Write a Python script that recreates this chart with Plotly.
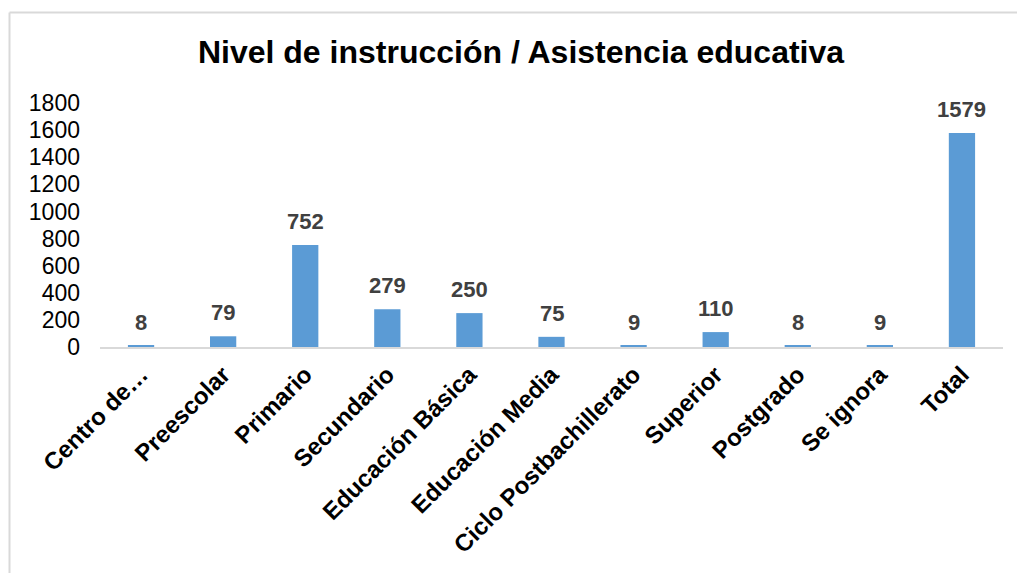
import plotly.graph_objects as go

CATEGORIES = ['Centro de…', 'Preescolar', 'Primario', 'Secundario', 'Educación Básica',
              'Educación Media', 'Ciclo Postbachillerato', 'Superior', 'Postgrado',
              'Se ignora', 'Total']
VALUES = [8, 79, 752, 279, 250, 75, 9, 110, 8, 9, 1579]
Y_TICKS = [0, 200, 400, 600, 800, 1000, 1200, 1400, 1600, 1800]

BAR_COLOR = '#5B9BD5'
FONT = 'Liberation Sans, Arial, sans-serif'

# plot area in pixels (used to place the outer frame)
W, H = 1017, 573
L, R, T, B = 100, 14, 103, 226
PW, PH = W - L - R, H - T - B


def px_x(px):
    return (px - L) / PW


def px_y(py):
    return (H - B - py) / PH


fig = go.Figure(
    go.Bar(
        x=CATEGORIES,
        y=VALUES,
        marker=dict(color=BAR_COLOR, line=dict(width=0)),
        hoverinfo='x+y',
        showlegend=False,
    )
)

annotations = [
    dict(x=c, y=v, text=f'<b>{v}</b>', showarrow=False, yanchor='bottom', yshift=9,
         font=dict(family=FONT, size=22, color='#404040'))
    for c, v in zip(CATEGORIES, VALUES)
]

fig.update_layout(
    width=W,
    height=H,
    title=dict(text='<b>Nivel de instrucción / Asistencia educativa</b>',
               xref='container', x=521 / W, xanchor='center',
               y=1 - 52 / H, yanchor='middle', font=dict(family=FONT, size=32, color='#000000')),
    plot_bgcolor='#FFFFFF',
    paper_bgcolor='#FFFFFF',
    margin=dict(l=L, r=R, t=T, b=B, autoexpand=False),
    bargap=0.68,
    font=dict(family=FONT, color='#000000'),
    xaxis=dict(
        tickangle=-45,
        tickfont=dict(family=FONT, size=24, color='#000000', weight='bold'),
        ticklabelstandoff=2,
        showline=True,
        linecolor='#d9d9d9',
        linewidth=2,
        showgrid=False,
        ticks='',
    ),
    yaxis=dict(
        range=[0, 1800],
        tickvals=Y_TICKS,
        tickfont=dict(family=FONT, size=23, color='#000000'),
        showgrid=False,
        zeroline=False,
        showline=False,
        ticks='',
        ticklabelstandoff=19,
    ),
    annotations=annotations,
    shapes=[
        dict(type='line', xref='paper', yref='paper', x0=px_x(9.5), x1=px_x(1030),
             y0=px_y(12.5), y1=px_y(12.5), line=dict(color='#d9d9d9', width=2)),
        dict(type='line', xref='paper', yref='paper', x0=px_x(9.5), x1=px_x(9.5),
             y0=px_y(12.5), y1=px_y(600), line=dict(color='#d9d9d9', width=2)),
    ],
)

fig.write_html('out.html', config={'displayModeBar': False},
               post_script="document.body.style.margin='0';document.body.style.overflow='hidden';")
